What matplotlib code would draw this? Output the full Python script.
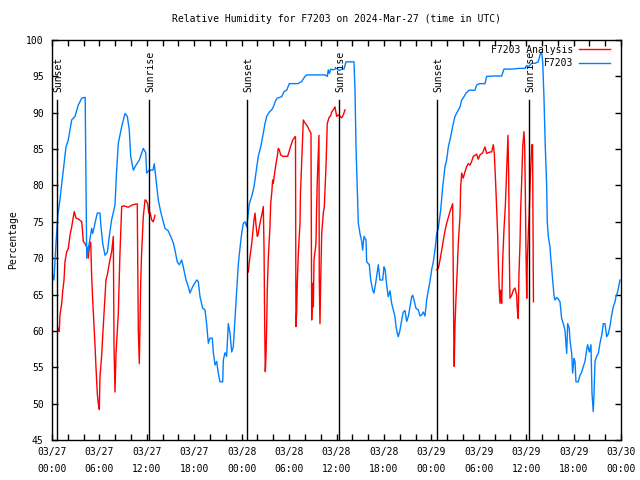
import numpy as np
import matplotlib
matplotlib.use("Agg")
import matplotlib.pyplot as plt
import matplotlib.dates as mdates

plt.rcParams['font.family'] = ['DejaVu Sans Mono']

title = "Relative Humidity for F7203 on 2024-Mar-27 (time in UTC)"
ylabel = "Percentage"
start = np.datetime64('2024-03-27T00:00')

# Observed (F7203) - hours since start, relative humidity %
obs_h = [0.0, 0.25, 0.5, 0.75, 1.0, 1.43, 1.77, 2.06, 2.49, 2.91, 3.33, 3.76, 4.09, 4.2, 4.39, 4.72, 5.02, 5.15, 5.73, 6.07,
         6.16, 6.42, 6.71, 7.0, 7.25, 7.55, 7.97, 8.16, 8.39, 8.82, 9.24, 9.53, 9.78, 9.96, 10.29, 10.63, 11.05, 11.55, 11.86, 11.98,
         12.31, 12.78, 12.94, 13.07, 13.25, 13.45, 13.75, 14.08, 14.30, 14.68, 15.02, 15.35, 15.56, 15.85, 16.11, 16.41, 16.61, 16.96, 17.25, 17.46,
         17.80, 18.31, 18.51, 18.73, 19.07, 19.36, 19.58, 19.78, 19.99, 20.28, 20.41, 20.63, 20.84, 21.04, 21.26, 21.60, 21.68, 21.89, 22.10, 22.31,
         22.52, 22.74, 22.94, 23.16, 23.37, 23.57, 23.79, 24.00, 24.21, 24.42, 24.64, 24.84,
         24.97, 25.27, 25.56, 25.81, 26.10, 26.41, 26.74, 26.95, 27.17, 27.50, 27.80, 28.00, 28.34, 28.51, 29.06, 29.36, 29.70, 30.03, 30.53, 31.13,
         31.60, 32.01, 32.23, 33.49, 34.54, 34.84, 34.96, 35.09, 35.27, 35.59, 35.81, 36.02, 36.35, 36.66, 36.95, 37.20, 38.21, 38.34, 38.47, 38.63,
         38.76, 38.97, 39.19, 39.31, 39.48, 39.73, 39.82, 40.15, 40.33, 40.58, 40.74, 40.99, 41.29, 41.50, 41.84, 42.01, 42.14, 42.35, 42.55, 42.77,
         42.98, 43.19, 43.40, 43.53, 43.69, 43.82, 44.03, 44.25, 44.45, 44.67, 44.88, 45.09, 45.30, 45.51, 45.64, 45.81, 46.06, 46.35, 46.57, 46.78,
         46.98, 47.20, 47.41, 47.62, 47.83, 48.04, 48.25, 48.46, 48.68, 48.88, 49.10, 49.18, 49.44, 49.73, 49.94, 50.15, 50.45, 50.70, 50.99, 51.28,
         51.63, 51.84, 52.13, 52.39, 52.80, 53.52, 53.74, 54.07, 54.79, 55.00, 55.93, 56.90, 57.19, 58.21, 59.13, 59.85, 60.07, 60.27, 60.70, 61.12,
         61.53, 61.84, 61.96, 62.09, 62.25, 62.42, 62.60, 62.67, 62.80, 63.01, 63.10, 63.23, 63.35, 63.52, 63.65, 63.86, 64.06, 64.28, 64.49, 64.70,
         64.91, 65.04, 65.13, 65.25, 65.45, 65.54, 65.76, 65.88, 66.05, 66.18, 66.30, 66.59, 66.81, 67.02, 67.23, 67.44, 67.66, 67.78, 67.99, 68.20,
         68.33, 68.49, 68.58, 68.71, 68.92, 69.13, 69.34, 69.56, 69.76, 69.97, 70.19, 70.39, 70.60, 70.82, 71.02, 71.24, 71.36, 71.58, 71.75, 71.87]
obs_v = [68, 67, 72, 76, 78, 82.1, 85.3, 86.25, 89, 89.5, 91.06, 92, 92.1, 92.1, 70, 72.1, 74.1, 73.4, 76.2, 76.2,
         74.8, 72, 70.4, 70.8, 73, 75.3, 77.3, 81.7, 85.8, 88.1, 89.9, 89.5, 87.6, 84, 82.1, 82.8, 83.5, 85.1, 84.5, 81.7,
         82.1, 82.1, 83, 81.7, 79.8, 78, 76.4, 75, 74.1, 73.8, 73, 72.1, 71.1, 69.5, 69.1, 69.75, 68.8, 67, 66.1, 65.2,
         66.1, 67, 66.8, 64.7, 63.1, 62.9, 60.8, 58.3, 59, 59, 57.1, 55.3, 55.8, 54.2, 53, 53, 56, 57, 56.5, 61,
         59.7, 57.1, 57.8, 61.7, 65.6, 69.1, 71.4, 73.4, 74.8, 75, 74.3, 76.2,
         77.5, 78.5, 79.8, 81.7, 84, 85.3, 87.2, 88.5, 89.5, 90.1, 90.4, 90.8, 91.75, 92, 92.2, 92.9, 93.1, 94.0, 94.0, 94.0,
         94.3, 95, 95.2, 95.2, 95.2, 95.0, 95.9, 95.4, 96.0, 95.9, 96.0, 96.1, 95.8, 96.0, 96.0, 97, 97, 93.1, 85.3, 79.4,
         74.8, 73.4, 72.3, 71.1, 73, 72.5, 69.5, 69.1, 67, 65.6, 65.2, 66.8, 69.1, 67, 67, 68.8, 68.5, 66.3, 64.7, 65.5,
         63.8, 62.9, 61.95, 60.6, 59.7, 59.2, 60.1, 61.5, 62.6, 62.8, 61.3, 62.0, 63.3, 64.7, 64.9, 64.25, 63.1, 62.9, 62.05, 62.2,
         62.6, 62.05, 64.25, 65.6, 66.8, 68.4, 69.5, 71.1, 73.4, 74.1, 75.9, 76.6, 79.8, 82.6, 83.5, 85.3, 86.7, 88.1, 89.5, 90.1,
         90.8, 91.75, 92.2, 92.7, 93.1, 93.1, 93.8, 94.0, 94.0, 95, 95.05, 95.05, 96.0, 96.0, 96.1, 96.1, 96.5, 96.3, 96.8, 96.8,
         97, 98.3, 98.3, 97, 92.2, 85.3, 79.8, 75, 73, 71.6, 70.2, 68.6, 67, 64.9, 64.25, 64.6, 64.4, 64.0, 61.7, 61.0,
         60.1, 58.1, 56.9, 61, 60.4, 58.75, 56.9, 54.2, 56.2, 55.8, 53, 53, 53.9, 54.3, 55.1, 55.8, 57.4, 58.1, 57.1, 58.1,
         51.4, 48.9, 51.3, 55.8, 56.5, 56.9, 58.3, 59.4, 61, 61, 59.2, 59.6, 60.6, 62.2, 63.3, 64, 64.7, 65.4, 66.3, 67]

# Analysis (F7203 Analysis) - NaN separates nights without data
ana_h = [0.80, 0.92, 1.01, 1.23, 1.35, 1.52, 1.64, 1.86, 2.06, 2.28, 2.49, 2.70, 2.82, 3.04, 3.33, 3.76, 3.88, 3.96, 4.18, 4.47,
         4.59, 4.72, 4.90, 5.02, 5.15, 5.31, 5.44, 5.57, 5.73, 5.86, 5.99, 6.07, 6.29, 6.42, 6.58, 6.83, 7.00, 7.25, 7.55, 7.76,
         7.85, 7.97, 8.10, 8.39, 8.60, 8.82, 9.11, 9.65, 10.12, 10.63, 10.79, 10.92, 11.05, 11.22, 11.35, 11.55, 11.77, 11.86, 12.11, 12.24,
         12.40, 12.62, 12.82, 13.03, 13.1,
         24.84, 24.97, 25.14, 25.27, 25.40, 25.56, 25.69, 25.81, 25.98, 26.10, 26.23, 26.41, 26.54, 26.66, 26.74, 26.83, 26.92, 26.99, 27.08, 27.17,
         27.24, 27.37, 27.58, 27.67, 27.80, 27.92, 28.00, 28.09, 28.34, 28.51, 28.63, 28.76, 28.94, 29.19, 29.48, 29.82, 30.12, 30.46, 30.75, 30.81,
         30.87, 30.96, 31.04, 31.17, 31.38, 31.44, 31.59, 31.80, 32.01, 32.23, 32.43, 32.65, 32.77, 32.86, 32.99, 33.07, 33.15, 33.40, 33.49, 33.57,
         33.78, 33.82, 33.91, 34.00, 34.13, 34.33, 34.46, 34.67, 34.83, 34.96, 35.09, 35.27, 35.39, 35.59, 35.81, 36.02, 36.22, 36.44, 36.66, 36.86,
         37.08, 37.15,
         48.68, 48.88, 49.10, 49.31, 49.52, 49.73, 49.94, 50.15, 50.36, 50.58, 50.70, 50.78, 50.86, 50.90, 50.99, 51.12, 51.28, 51.41, 51.63, 51.71,
         51.84, 52.04, 52.26, 52.47, 52.68, 52.89, 53.10, 53.31, 53.74, 53.94, 54.15, 54.50, 54.79, 55.00, 55.42, 55.63, 55.84, 55.97, 56.14, 56.27,
         56.40, 56.48, 56.60, 56.69, 56.78, 56.90, 57.03, 57.19, 57.36, 57.45, 57.61, 57.70, 57.79, 57.87, 57.95, 58.17, 58.37, 58.59, 58.80, 58.88,
         59.00, 59.09, 59.22, 59.30, 59.43, 59.56, 59.72, 59.81, 59.89, 59.98, 60.07, 60.15, 60.27, 60.38, 60.50, 60.71, 60.81, 60.92]
ana_v = [60.35, 59.9, 62.2, 63.8, 65.4, 67, 69.5, 70.9, 71.3, 73.2, 74.3, 75.7, 76.4, 75.5, 75.4, 75, 73.5, 72.3, 72.0, 71.4,
         70, 71.5, 72.2, 67.45, 64.25, 61, 58.1, 54.9, 51.4, 50.0, 49.2, 53.7, 56.7, 59.4, 62.4, 67, 67.7, 69.3, 70.9, 73,
         57.8, 51.6, 56.9, 62.4, 70.7, 77.1, 77.2, 77, 77.3, 77.45, 77.45, 60.1, 55.5, 66.55, 71, 75.7, 78, 78, 77.5, 76.2,
         76.3, 75.25, 75, 75.9, np.nan,
         68.1, 69.5, 70.9, 72, 73.4, 75.25, 76.2, 74.6, 73, 73.3, 74.3, 75.3, 75.9, 76.6, 77.1, 71.4, 60.1, 54.4, 56.7, 61,
         65.6, 70, 74.3, 77.5, 78.9, 80.75, 80.3, 81, 83.0, 84.0, 85.1, 84.9, 84.2, 84.0, 84.0, 84, 85.1, 86.25, 86.7, 86.7,
         60.6, 62.6, 66.55, 70.7, 74.8, 78.9, 83, 89.0, 88.6, 88.3, 87.9, 87.4, 87.2, 61.5, 66.55, 63.3, 69.75, 72, 77.1, 80.75,
         86.9, 67, 61, 67, 73.4, 76.2, 77.1, 82.6, 88.5, 89.0, 89.4, 89.6, 90.1, 90.4, 90.8, 89.5, 89.7, 89.5, 89.3, 89.7,
         90.4, np.nan,
         68.4, 68.6, 69.75, 71.1, 72.5, 73.8, 74.8, 75.6, 76.4, 77.1, 77.5, 66.3, 56.9, 55.1, 60.6, 64.5, 68.4, 72, 75.9, 79.8,
         81.7, 81.0, 81.9, 82.6, 83.0, 82.8, 83.3, 84, 84.3, 83.6, 84.2, 84.5, 85.3, 84.4, 84.6, 84.6, 85.6, 84.4, 80.3, 76.6,
         73, 69.3, 65.6, 63.8, 65.6, 63.8, 69.75, 73.9, 77.1, 79.8, 84.9, 86.9, 81.2, 70.2, 64.5, 64.9, 65.6, 65.9, 64.9, 62.9,
         61.7, 67.9, 72, 76.6, 80.5, 85.3, 87.4, 85.5, 79.4, 70.7, 64.5, 69.75, 73.4, 76, 80.3, 85.6, 85.6, 64.0]

# Sun events (hours since start)
sun_h = [0.6, 12.3, 24.65, 36.35, 48.7, 60.3]
sun_lbl = ["Sunset", "Sunrise", "Sunset", "Sunrise", "Sunset", "Sunrise"]

def to_dt(hours):
    h = np.asarray(hours, dtype=float)
    return start + (h * 3600).round().astype('timedelta64[s]')

fig = plt.figure(figsize=(6.4, 4.8), dpi=100)
ax = fig.add_axes([52/640, 40/480, (621-52)/640, 400/480])

red = '#ff0000'
blue = '#0080ff'

ax.plot(to_dt(ana_h), ana_v, color=red, lw=1.0, label='F7203 Analysis')
ax.plot(to_dt(obs_h), obs_v, color=blue, lw=1.0, label='F7203')

for h, lbl in zip(sun_h, sun_lbl):
    t = to_dt([h])[0]
    ax.plot([t, t], [45, 91.8], color='black', lw=1.0)
    t2 = to_dt([h + 0.17])[0]
    ax.text(t2, 92.8, lbl, rotation=90, ha='center', va='bottom', fontsize=7)

ax.set_xlim(to_dt([0])[0], to_dt([72])[0])
ax.set_ylim(45, 100)
ax.set_yticks(np.arange(45, 101, 5))
ax.xaxis.set_major_locator(mdates.HourLocator(byhour=[0, 6, 12, 18]))
ax.xaxis.set_minor_locator(mdates.HourLocator(byhour=range(0, 24, 2)))
ax.xaxis.set_major_formatter(mdates.DateFormatter('%m/%d\n%H:%M'))

ax.tick_params(axis='both', which='both', direction='in', top=True, right=True, labelsize=7, width=1.0)
ax.tick_params(axis='both', which='major', length=4.5, pad=5)
ax.tick_params(axis='x', which='minor', length=4.5)
ax.tick_params(axis='y', which='major', pad=6)
for lab in ax.get_xticklabels():
    lab.set_linespacing(1.9)
for s in ax.spines.values():
    s.set_linewidth(1.0)

ax.set_title(title, fontsize=7, pad=13)
ax.set_ylabel(ylabel, fontsize=7, labelpad=6)

ax.legend(loc='upper right', bbox_to_anchor=(0.986, 0.997), frameon=False, markerfirst=False, fontsize=7,
          handlelength=3.1, handletextpad=0.6, labelspacing=0.35,
          borderaxespad=0.15, borderpad=0.2)

fig.savefig('out.png', dpi=100)
